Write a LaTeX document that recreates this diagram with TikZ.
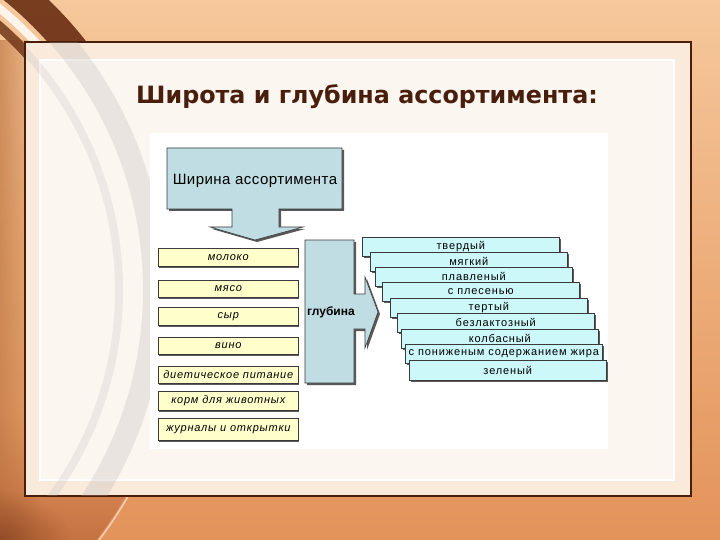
\documentclass[tikz,border=0pt]{standalone}
\usepackage{fontspec}
\setmainfont{Liberation Sans}
\newfontfamily\titlefont{DejaVu Sans}
\newfontfamily\yfont[LetterSpace=7]{Liberation Sans}
\newfontfamily\cfont[LetterSpace=8]{Liberation Sans}
\newfontfamily\wfont[LetterSpace=3]{Liberation Sans}
\usetikzlibrary{shadows,fadings}
\definecolor{bgtop}{HTML}{F6C89B}
\definecolor{bgbot}{HTML}{E3935A}
\definecolor{darkbr}{HTML}{6A2E12}
\definecolor{midbr}{HTML}{C07A45}
\definecolor{redbr}{HTML}{A8522A}
\definecolor{framebr}{HTML}{4A1E0C}
\definecolor{framefill}{HTML}{FAEADC}
\definecolor{panelfill}{HTML}{FCF6F0}
\definecolor{titlecol}{HTML}{4A1E0C}
\definecolor{bluefill}{HTML}{BFDDE3}
\definecolor{cyanfill}{HTML}{CCF8FA}
\definecolor{yelfill}{HTML}{FFFFCC}
\definecolor{edge}{HTML}{3A3A3A}
\tikzfading[name=fadeR, left color=transparent!0, right color=transparent!100]
\tikzfading[name=fadeUp, top color=transparent!100, bottom color=transparent!0]
\tikzfading[name=fadeOut, inner color=transparent!0, outer color=transparent!100]
\tikzset{
  ybox/.style={draw=edge, fill=yelfill, line width=0.6pt, minimum width=140pt,
    anchor=north west, inner sep=0pt, font=\yfont\itshape\fontsize{11}{12}\selectfont,
    drop shadow={shadow xshift=1pt, shadow yshift=-2pt, fill=black!80, opacity=.8}},
  cbox/.style={draw=edge, fill=cyanfill, line width=0.6pt, minimum width=197pt,
    minimum height=19pt, anchor=north west, inner sep=0pt,
    font=\cfont\fontsize{11}{12}\selectfont,
    drop shadow={shadow xshift=1.5pt, shadow yshift=-1.5pt, fill=black!80, opacity=.8}},
  bshape/.style={draw=edge, fill=bluefill, line width=0.6pt},
  bshadow/.style={fill=black!65}
}
\begin{document}
\begin{tikzpicture}[x=1pt,y=-1pt]
\useasboundingbox (0,0) rectangle (720,540);
% background
\shade[top color=bgtop, bottom color=bgbot] (0,0) rectangle (720,540);
\fill[midbr, opacity=.7, path fading=fadeR] (0,40) rectangle (40,540);
\begin{scope}
  \clip (0,0) rectangle (720,70);
  \draw[darkbr, line width=30pt, opacity=.9] (-231,290) circle[radius=388];
  \draw[white!80!bgtop, line width=8pt] (-231,290) circle[radius=364];
  \draw[darkbr, line width=10pt, opacity=.8] (-231,290) circle[radius=350];
\end{scope}
\begin{scope}
  \clip (-231,290) circle[radius=412];
  \fill[redbr, opacity=.5, path fading=fadeUp] (0,420) rectangle (250,540);
\end{scope}
\begin{scope}
  \clip (0,490) rectangle (720,540);
  \draw[white!70!bgbot, line width=1.5pt, opacity=.8] (-231,290) circle[radius=414];
\end{scope}
\fill[darkbr, opacity=.5, path fading=fadeOut] (0,540) ellipse[x radius=70, y radius=50];
% frame
\draw[framebr, line width=2.5pt, fill=framefill] (25,42) rectangle (691,496);
\draw[white, line width=1.5pt, fill=panelfill] (40,60) rectangle (674,480);
\begin{scope}
  \clip (26,43) rectangle (690,495);
  \draw[black!30, opacity=.25, line width=22pt] (-231,290) circle[radius=385];
  \draw[black!30, opacity=.2, line width=8pt] (-231,290) circle[radius=350];
\end{scope}
% white area
\fill[white] (150,133) rectangle (608,449);
% title
\node[font=\titlefont\bfseries\fontsize{23.8}{26}\selectfont, text=titlecol] (title) at (367,97) {Широта и глубина ассортимента:};
% width callout
\fill[bshadow, shift={(2,2)}] (167,148) -- (342,148) -- (342,209) -- (279,209) -- (279,227) -- (303,227) -- (255,240) -- (210,227) -- (232,227) -- (232,209) -- (167,209) -- cycle;
\draw[bshape] (167,148) -- (342,148) -- (342,209) -- (279,209) -- (279,227) -- (303,227) -- (255,240) -- (210,227) -- (232,227) -- (232,209) -- (167,209) -- cycle;
\node[font=\wfont\fontsize{15}{17}\selectfont] (width) at (255,181) {Ширина ассортимента};
% left boxes
\node[ybox, minimum height=18pt] (y1) at (158,248) {молоко};
\node[ybox, minimum height=17pt] (y2) at (158,280) {мясо};
\node[ybox, minimum height=18pt] (y3) at (158,307) {сыр};
\node[ybox, minimum height=17pt] (y4) at (158,337) {вино};
\node[ybox, minimum height=17pt] (y5) at (158,366) {диетическое питание};
\node[ybox, minimum height=19pt] (y6) at (158,391) {корм для животных};
\node[ybox, minimum height=22pt] (y7) at (158,418) {журналы и открытки};
% depth arrow
\fill[bshadow, shift={(2,2)}] (305,240) -- (354,240) -- (354,294) -- (365,294) -- (365,277) -- (378,312) -- (365,348) -- (365,329) -- (354,329) -- (354,383) -- (305,383) -- cycle;
\draw[bshape] (305,240) -- (354,240) -- (354,294) -- (365,294) -- (365,277) -- (378,312) -- (365,348) -- (365,329) -- (354,329) -- (354,383) -- (305,383) -- cycle;
\node[font=\bfseries\fontsize{12}{14}\selectfont] (depth) at (331,312) {глубина};
% right boxes
\node[cbox] (c1) at (362,237) {твердый};
\node[cbox] (c2) at (370,252) {мягкий};
\node[cbox] (c3) at (375,267) {плавленый};
\node[cbox] (c4) at (382,282) {с плесенью};
\node[cbox] (c5) at (390,298) {тертый};
\node[cbox] (c6) at (397,313) {безлактозный};
\node[cbox] (c7) at (401,329) {колбасный};
\node[cbox] (c8) at (405,344) {с пониженым содержанием жира};
\node[cbox, minimum height=20pt] (c9) at (409,360) {зеленый};
\end{tikzpicture}
\end{document}
